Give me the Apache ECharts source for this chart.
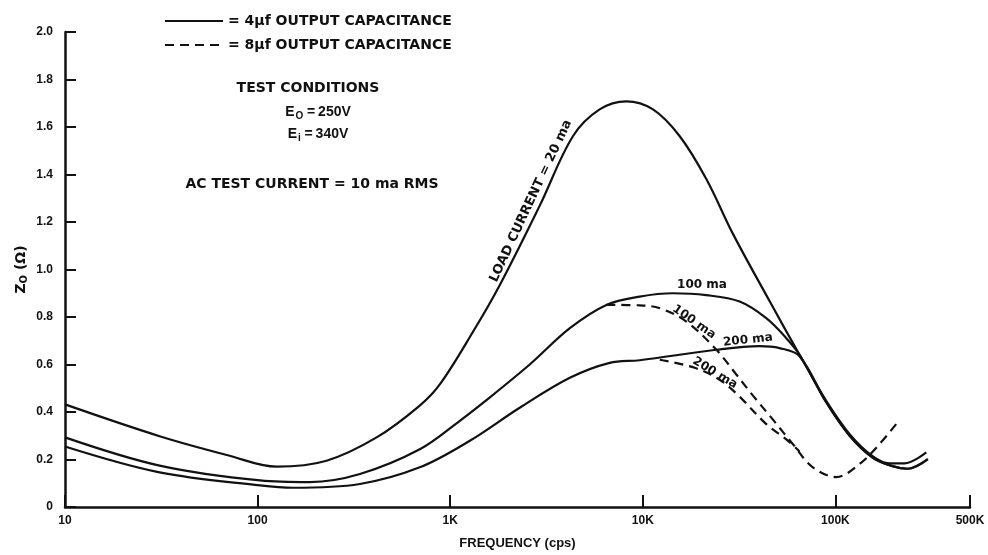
<!DOCTYPE html>
<html>
<head>
<meta charset="utf-8">
<script src="https://cdn.jsdelivr.net/npm/echarts@6/dist/echarts.min.js"></script>
<style>
  html, body { margin: 0; padding: 0; background: #fff; }
  #chart { width: 988px; height: 555px; }
</style>
</head>
<body>
<div id="chart"></div>
<script>
// Output impedance vs. frequency (cps), 4 uF (solid) and 8 uF (dashed) output capacitance
const xTicks = [10, 100, 1000, 10000, 100000, 500000];

// 4 uF, load current 20 ma
const f20 = [10, 31, 70, 126, 228, 415, 695, 883, 1316, 1807, 2917, 4345, 5970, 8222, 11300, 15520, 21370, 29390, 45600, 65130, 89800, 118600, 156700, 191000, 228500, 296500];
const z20 = [0.432, 0.298, 0.218, 0.170, 0.195, 0.293, 0.427, 0.516, 0.739, 0.934, 1.269, 1.562, 1.674, 1.708, 1.674, 1.562, 1.381, 1.150, 0.866, 0.641, 0.446, 0.307, 0.213, 0.184, 0.184, 0.230];

// 4 uF, load current 100 ma
const f100 = [10, 31, 103, 187, 340, 695, 1122, 1542, 2588, 4180, 6470, 9640, 14350, 21370, 31840, 43770, 55600, 65130, 89800, 118600, 156700, 198000, 237000, 302000];
const z100 = [0.293, 0.174, 0.112, 0.105, 0.139, 0.243, 0.363, 0.450, 0.600, 0.753, 0.851, 0.886, 0.900, 0.892, 0.865, 0.795, 0.711, 0.641, 0.440, 0.300, 0.207, 0.172, 0.161, 0.202];

// 4 uF, load current 200 ma
const f200 = [10, 31, 103, 153, 340, 695, 1265, 2296, 4180, 6730, 9640, 24100, 40350, 51300, 65130, 89800, 118600, 156700, 198000, 237000, 302000];
const z200 = [0.255, 0.146, 0.091, 0.081, 0.097, 0.167, 0.279, 0.418, 0.544, 0.607, 0.618, 0.662, 0.677, 0.669, 0.635, 0.440, 0.300, 0.207, 0.172, 0.161, 0.202];

// 8 uF, load current 100 ma
const f100d = [6470, 9640, 12250, 16830, 24100, 30600, 37330, 47400, 60100, 76400, 101100, 133600, 169500, 206800];
const z100d = [0.851, 0.849, 0.837, 0.781, 0.662, 0.558, 0.469, 0.368, 0.265, 0.167, 0.126, 0.181, 0.265, 0.349];

// 8 uF, load current 200 ma
const f200d = [12250, 18580, 25060, 31050, 43770, 55600, 65130];
const z200d = [0.620, 0.586, 0.536, 0.473, 0.349, 0.285, 0.234];

const SOLID_NAME = '= 4\u03BCf OUTPUT CAPACITANCE';
const DASH_NAME = '= 8\u03BCf OUTPUT CAPACITANCE';

const FONT = '"Liberation Sans", Arial, sans-serif';
const LETTER = '"DejaVu Sans", sans-serif';
const INK = '#111';

function pairs(xs, ys) { return xs.map((x, i) => [x, ys[i]]); }

function curve(name, xs, ys, dashed) {
  return {
    type: 'line',
    name: name,
    data: pairs(xs, ys),
    smooth: 0.35,
    symbol: 'none',
    showSymbol: false,
    silent: true,
    lineStyle: { color: INK, width: 2.2, type: dashed ? [9, 6] : 'solid' },
    itemStyle: { color: INK }
  };
}

function fmtFreq(v) {
  const r = Math.round(v);
  return r >= 1000 ? (r / 1000) + 'K' : String(r);
}

function label(text, x, y, size, deg, extra) {
  return {
    type: 'text', x: x, y: y, rotation: (deg || 0) * Math.PI / 180,
    style: Object.assign({
      text: text, fontSize: size, fontFamily: LETTER, fontWeight: 'bold', fill: INK,
      align: 'center', verticalAlign: 'middle'
    }, extra || {})
  };
}

const subRich = {
  s: { fontSize: 10, fontWeight: 'bold', fontFamily: FONT, fill: INK, padding: [9, 1, 0, 1] }
};

const chart = echarts.init(document.getElementById('chart'), null, { renderer: 'canvas' });

chart.setOption({
  animation: false,
  backgroundColor: '#fff',
  grid: { left: 65, right: 18, top: 32, bottom: 45, containLabel: false },
  legend: {
    orient: 'vertical',
    left: 159,
    top: 9,
    itemWidth: 58,
    itemHeight: 14,
    itemGap: 10,
    selectedMode: false,
    itemStyle: { opacity: 0 },
    data: [SOLID_NAME, DASH_NAME],
    textStyle: { fontFamily: LETTER, fontWeight: 'bold', fontSize: 14, color: INK }
  },
  xAxis: {
    type: 'log',
    logBase: 10,
    min: 10,
    max: 500000,
    name: 'FREQUENCY (cps)',
    nameLocation: 'middle',
    nameGap: 30,
    nameTextStyle: { fontFamily: FONT, fontWeight: 'bold', fontSize: 13, color: INK },
    axisLine: { lineStyle: { color: INK, width: 2.5 } },
    axisTick: { inside: true, length: 12, lineStyle: { color: INK, width: 2 } },
    minorTick: { show: false },
    splitLine: { show: false },
    axisLabel: { fontFamily: FONT, fontWeight: 'bold', fontSize: 12, color: INK, margin: 8, formatter: fmtFreq, showMaxLabel: true }
  },
  yAxis: {
    type: 'value',
    min: 0,
    max: 2.0,
    interval: 0.2,
    name: 'Z{sub|O} (\u03A9)',
    nameLocation: 'middle',
    nameGap: 36,
    nameMoveOverlap: false,
    nameRotate: 90,
    nameTextStyle: {
      fontFamily: LETTER, fontWeight: 'bold', fontSize: 14, color: INK,
      rich: { sub: { fontFamily: LETTER, fontWeight: 'bold', fontSize: 10, color: INK, padding: [6, 0, 0, 0] } }
    },
    axisLine: { show: true, lineStyle: { color: INK, width: 2.5 } },
    axisTick: { show: true, inside: true, length: 11, lineStyle: { color: INK, width: 2 } },
    splitLine: { show: false },
    axisLabel: {
      fontFamily: FONT, fontWeight: 'bold', fontSize: 12, color: INK, margin: 12,
      formatter: v => (v === 0 ? '0' : v.toFixed(1))
    }
  },
  series: [
    curve(SOLID_NAME, f20, z20, false),
    curve(SOLID_NAME, f100, z100, false),
    curve(SOLID_NAME, f200, z200, false),
    curve(DASH_NAME, f100d, z100d, true),
    curve(DASH_NAME, f200d, z200d, true)
  ],
  graphic: [
    label('TEST CONDITIONS', 308, 88, 14),
    label('E{s|O}\u2009=\u2009250V', 318, 112, 14, 0, { fontFamily: FONT, rich: subRich }),
    label('E{s|i}\u2009=\u2009340V', 318, 134, 14, 0, { fontFamily: FONT, rich: subRich }),
    label('AC TEST CURRENT = 10 ma RMS', 312, 184, 14),
    label('LOAD CURRENT = 20 ma', 531, 201, 13, 65),
    label('100 ma', 702, 285, 12),
    label('100 ma', 694, 322, 12, -35),
    label('200 ma', 748, 340, 12, 6),
    label('200 ma', 715, 373, 12, -31)
  ]
});
</script>
</body>
</html>
